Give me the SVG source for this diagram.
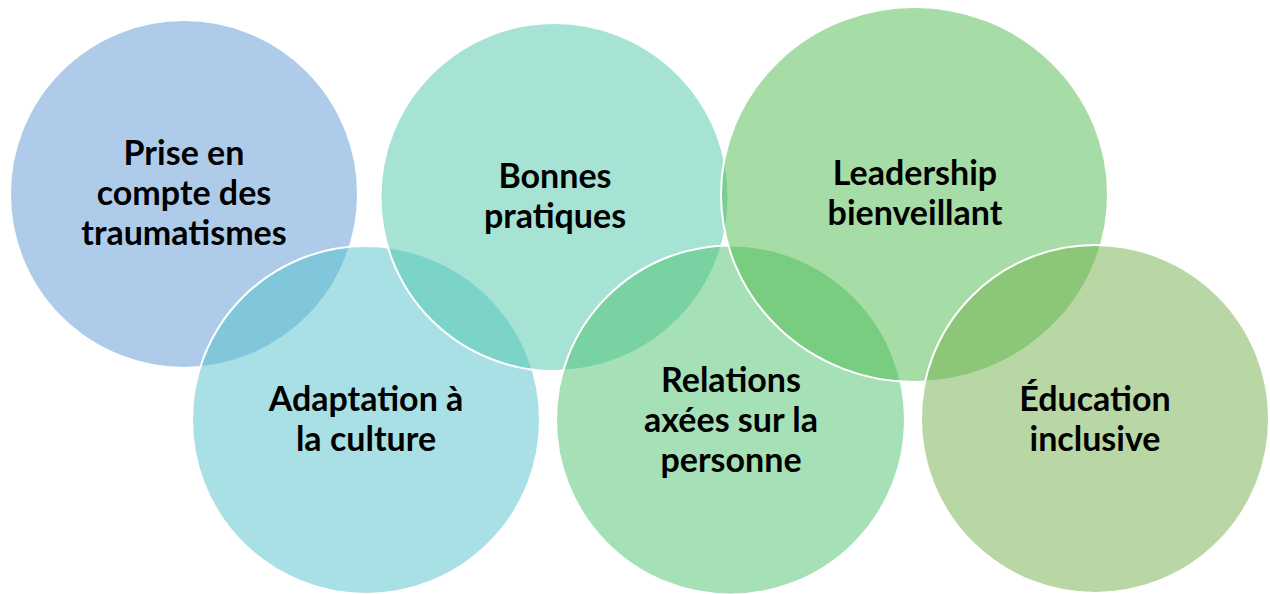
<svg xmlns="http://www.w3.org/2000/svg" width="1270" height="594" viewBox="0 0 1270 594">
  <style>
    .disc { fill-opacity: 0.5; stroke: #ffffff; stroke-width: 2; }
    .label { font-family: "Lato", "Liberation Sans", sans-serif; font-weight: bold; font-size: 34px; fill: #000000; text-anchor: middle; }
  </style>
  <rect x="0" y="0" width="1270" height="594" fill="#ffffff"/>
  <g id="connectors"></g>

  <g id="node-trauma">
    <circle class="disc" cx="184" cy="194" r="174" fill="#5D99D5"/>
    <text class="label" x="184" y="165">Prise en</text>
    <text class="label" x="184" y="205">compte des</text>
    <text class="label" x="184" y="245">traumatismes</text>
  </g>

  <g id="node-culture">
    <circle class="disc" cx="366" cy="420" r="174" fill="#53C1CB"/>
    <text class="label" x="366" y="411">Adaptation à</text>
    <text class="label" x="366" y="451">la culture</text>
  </g>

  <g id="node-pratiques">
    <circle class="disc" cx="554.5" cy="197" r="174" fill="#4DC7A9"/>
    <text class="label" x="555" y="188">Bonnes</text>
    <text class="label" x="555" y="228">pratiques</text>
  </g>

  <g id="node-relations">
    <circle class="disc" cx="730.5" cy="420" r="174.5" fill="#4BC16F"/>
    <text class="label" x="731" y="392">Relations</text>
    <text class="label" x="731" y="432">axées sur la</text>
    <text class="label" x="731" y="472">personne</text>
  </g>

  <g id="node-leadership">
    <ellipse class="disc" cx="914.5" cy="194.5" rx="193.5" ry="187.5" fill="#4DB94B"/>
    <text class="label" x="915" y="185">Leadership</text>
    <text class="label" x="915" y="225">bienveillant</text>
  </g>

  <g id="node-education">
    <circle class="disc" cx="1095" cy="419" r="174" fill="#71AF4B"/>
    <text class="label" x="1095" y="411">Éducation</text>
    <text class="label" x="1095" y="451">inclusive</text>
  </g>
</svg>
